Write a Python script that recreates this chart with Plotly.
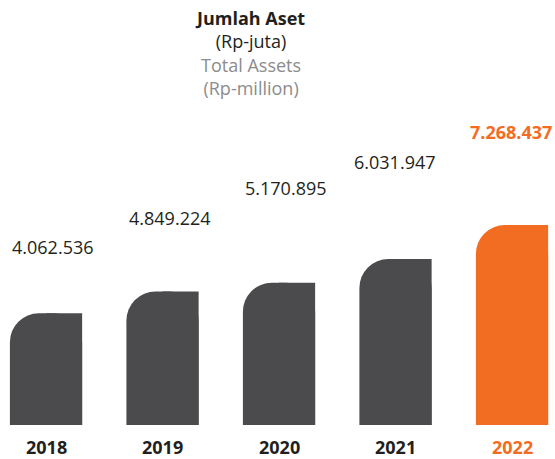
import plotly.graph_objects as go

years = ["2018", "2019", "2020", "2021", "2022"]
assets = [4062536, 4849224, 5170895, 6031947, 7268437]
value_labels = ["4.062.536", "4.849.224", "5.170.895", "6.031.947", "7.268.437"]

GREY = "#4b4b4d"
ORANGE = "#f26c22"
TEXT = "#231f20"
colors = [GREY, GREY, GREY, GREY, ORANGE]

# pixel offsets of the value labels above the bar tops
label_shift = [66, 74, 95, 97, 93]
label_dx = [7, 7, 7, -1, -1]

fig = go.Figure()
# full bar with rounded top corners
fig.add_trace(go.Bar(x=years, y=assets, width=0.62,
                     marker=dict(color=colors, cornerradius=29, line_width=0),
                     hoverinfo="skip"))
# square right half to keep the top-right corner sharp
fig.add_trace(go.Bar(x=years, y=assets, width=0.31, offset=0,
                     marker=dict(color=colors, cornerradius=0, line_width=0),
                     hoverinfo="skip"))

for i, (v, lab) in enumerate(zip(assets, value_labels)):
    last = i == len(years) - 1
    col = ORANGE if last else TEXT
    fig.add_annotation(x=i, y=v, text=f"<b>{lab}</b>" if last else lab,
                       showarrow=False, yshift=label_shift[i], xshift=label_dx[i],
                       font=dict(family="Open Sans", size=18, color=col))
    fig.add_annotation(x=i, y=0, text=f"<b>{years[i]}</b>", showarrow=False,
                       yshift=-22, font=dict(family="Open Sans", size=18, color=col))

title = ("<b>Jumlah Aset</b><br>(Rp-juta)<br>"
         "<span style='color:#8c8c8c'>Total Assets<br>(Rp-million)</span>")
fig.add_annotation(x=250 / 555, xref="paper", xanchor="center", y=1, yref="paper",
                   yanchor="top", yshift=-4, text=title, showarrow=False,
                   align="center", font=dict(family="Open Sans", size=18, color=TEXT))

fig.update_layout(
    width=555, height=459,
    margin=dict(l=0, r=0, t=0, b=34),
    barmode="overlay", showlegend=False,
    paper_bgcolor="white", plot_bgcolor="white",
    xaxis=dict(type="category", range=[-0.395, 4.369], showticklabels=False,
               showgrid=False, zeroline=False, fixedrange=True),
    yaxis=dict(range=[0, 15.44e6], visible=False, fixedrange=True),
)

fig.write_html("out.html", config={"displayModeBar": False},
               post_script="document.body.style.margin='0';")
